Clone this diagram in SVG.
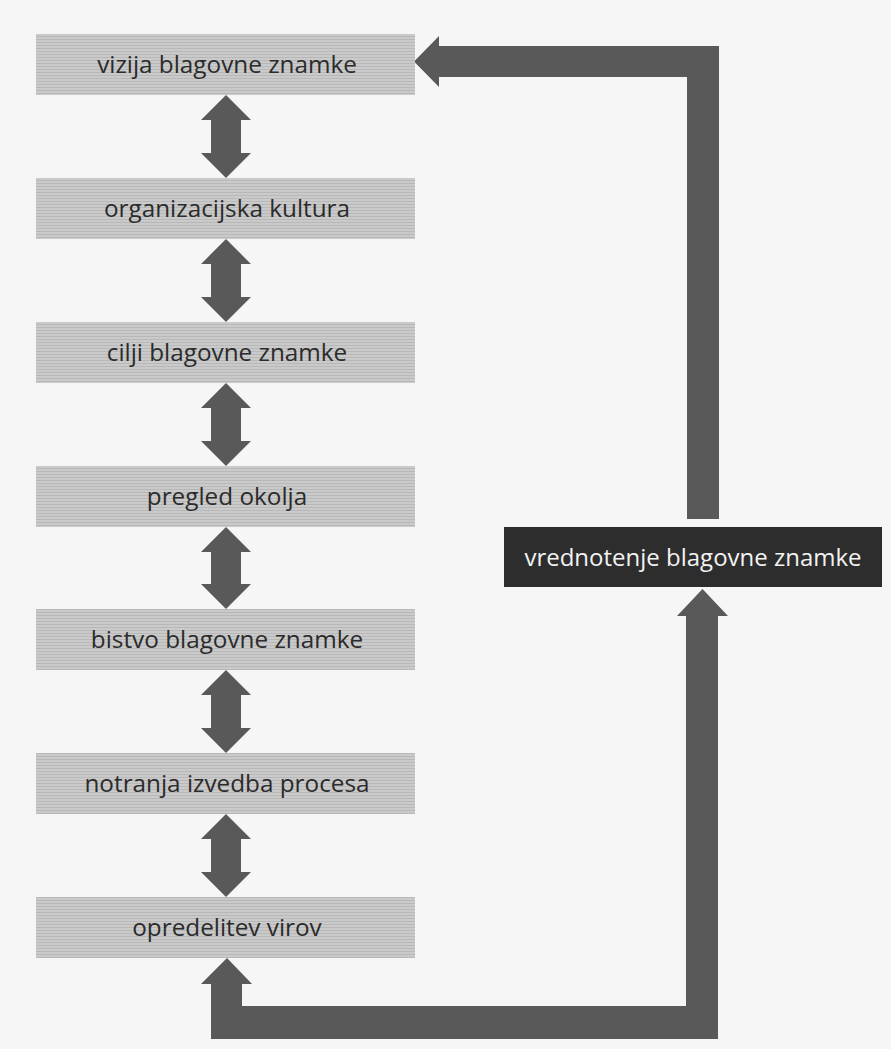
<svg xmlns="http://www.w3.org/2000/svg" width="891" height="1049" viewBox="0 0 891 1049">
  <defs>
    <pattern id="halftone" width="4" height="3" patternUnits="userSpaceOnUse">
      <rect width="4" height="3" fill="#cacaca"/>
      <rect width="4" height="1" fill="#b8b8b8"/>
    </pattern>
    <style>
      .box { fill: url(#halftone); }
      .dark { fill: #2d2d2d; }
      .lbl { font-family: "Open Sans", "Noto Sans", sans-serif; font-size: 24.3px; fill: #2b2b2b; text-anchor: middle; }
      .lbl-w { font-family: "Open Sans", "Noto Sans", sans-serif; font-size: 24px; fill: #f2f2f2; text-anchor: middle; }
      .arrow { fill: #595959; }
    </style>
  </defs>
  <rect width="891" height="1049" fill="#f6f6f6"/>

  <g id="connectors">
    <polygon class="arrow" points="226,95 251,120 241,120 241,153 251,153 226,178 201,153 211,153 211,120 201,120"/>
    <polygon class="arrow" points="226,239 251,264 241,264 241,297 251,297 226,322 201,297 211,297 211,264 201,264"/>
    <polygon class="arrow" points="226,383 251,408 241,408 241,441 251,441 226,466 201,441 211,441 211,408 201,408"/>
    <polygon class="arrow" points="226,527 251,552 241,552 241,584 251,584 226,609 201,584 211,584 211,552 201,552"/>
    <polygon class="arrow" points="226,670 251,695 241,695 241,728 251,728 226,753 201,728 211,728 211,695 201,695"/>
    <polygon class="arrow" points="226,814 251,839 241,839 241,872 251,872 226,897 201,872 211,872 211,839 201,839"/>
    <polygon class="arrow" points="687,519 687,77 439,77 439,87 414,61.5 439,36 439,46 719,46 719,519"/>
    <polygon class="arrow" points="702.5,589 728,616 718,616 718,1039 211,1039 211,984 201,984 227,958 252,984 242,984 242,1006 686,1006 686,616 677,616"/>
  </g>

  <g id="n1">
    <rect class="box" x="36" y="34" width="379" height="61"/>
    <text class="lbl" x="227" y="73">vizija blagovne znamke</text>
  </g>
  <g id="n2">
    <rect class="box" x="36" y="178" width="379" height="61"/>
    <text class="lbl" x="227" y="217">organizacijska kultura</text>
  </g>
  <g id="n3">
    <rect class="box" x="36" y="322" width="379" height="61"/>
    <text class="lbl" x="227" y="361">cilji blagovne znamke</text>
  </g>
  <g id="n4">
    <rect class="box" x="36" y="466" width="379" height="61"/>
    <text class="lbl" x="227" y="505">pregled okolja</text>
  </g>
  <g id="n5">
    <rect class="box" x="36" y="609" width="379" height="61"/>
    <text class="lbl" x="227" y="648">bistvo blagovne znamke</text>
  </g>
  <g id="n6">
    <rect class="box" x="36" y="753" width="379" height="61"/>
    <text class="lbl" x="227" y="792">notranja izvedba procesa</text>
  </g>
  <g id="n7">
    <rect class="box" x="36" y="897" width="379" height="61"/>
    <text class="lbl" x="227" y="936">opredelitev virov</text>
  </g>
  <g id="n8">
    <rect class="dark" x="504" y="527" width="378" height="60"/>
    <text class="lbl-w" x="693" y="566">vrednotenje blagovne znamke</text>
  </g>
</svg>
